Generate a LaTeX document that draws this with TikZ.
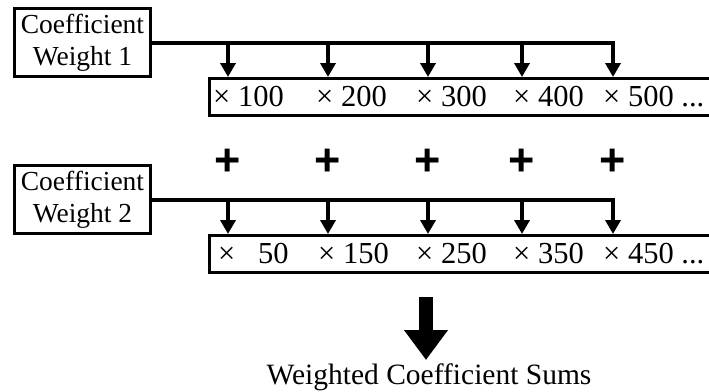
\documentclass[tikz,border=0pt]{standalone}
\usepackage{fontspec}
\setmainfont{Liberation Serif}
\newfontfamily\plusfont{Liberation Sans}
\usetikzlibrary{arrows.meta}
\begin{document}
\begin{tikzpicture}[x=1pt,y=-1pt,
  wbox/.style={draw, line width=3pt, minimum width=136pt, minimum height=68pt, inner sep=0pt, align=center, font=\fontsize{27.5}{32}\selectfont},
  rowbox/.style={draw, line width=3pt, minimum width=540pt, minimum height=37pt, inner sep=0pt, anchor=west},
  lbl/.style={font=\fontsize{30.5}{34}\selectfont, inner sep=0pt, anchor=base west},
  arr/.style={line width=3.5pt, -{Triangle[length=14pt,width=15pt]}},
  plussign/.style={font=\plusfont\bfseries\fontsize{45}{45}\selectfont, inner sep=0pt},
  bigarr/.style={line width=14pt, -{Triangle[length=30pt,width=42pt]}},
  result/.style={font=\fontsize{29.5}{33}\selectfont, inner sep=0pt, anchor=base}
]
\useasboundingbox (0,0) rectangle (709,391);

% weight boxes
\node[wbox] (w1) at (82.5,42.5) {Coefficient\\Weight 1};
\node[wbox] (w2) at (82.5,199.5) {Coefficient\\Weight 2};

% row boxes
\node[rowbox] (r1) at (207.5,97) {};
\node[rowbox] (r2) at (207.5,254) {};

% connector points
\foreach \i/\x in {1/228,2/328,3/428,4/522,5/613}{
  \coordinate (a\i) at (\x,77);
  \coordinate (b\i) at (\x,43);
  \coordinate (c\i) at (\x,234);
  \coordinate (d\i) at (\x,200);
}

\draw[arr] (w1.east |- b1) -| (a5);
\draw[arr] (w2.east |- d1) -| (c5);
\foreach \i in {1,2,3,4}{
  \draw[arr] (b\i) -- (a\i);
  \draw[arr] (d\i) -- (c\i);
}

% row 1 labels
\node[lbl] (m1) at (213,106) {× 100};
\node[lbl] (m2) at (316,106) {× 200};
\node[lbl] (m3) at (416,106) {× 300};
\node[lbl] (m4) at (513,106) {× 400};
\node[lbl] (m5) at (603,106) {× 500 ...};

% row 2 labels
\node[lbl] (n1) at (218,263) {×\hspace{15pt} 50};
\node[lbl] (n2) at (318,263) {× 150};
\node[lbl] (n3) at (416,263) {× 250};
\node[lbl] (n4) at (513,263) {× 350};
\node[lbl] (n5) at (603,263) {× 450 ...};

% plus signs
\foreach \i/\x in {1/228,2/328,3/428,4/522,5/613}{
  \node[plussign] (p\i) at (\x,162) {+};
}

% big arrow and result
\coordinate (s0) at (426,297);
\coordinate (s1) at (426,360);
\draw[bigarr] (s0) -- (s1);
\node[result] (sum) at (429,384) {Weighted Coefficient Sums};
\end{tikzpicture}
\end{document}
